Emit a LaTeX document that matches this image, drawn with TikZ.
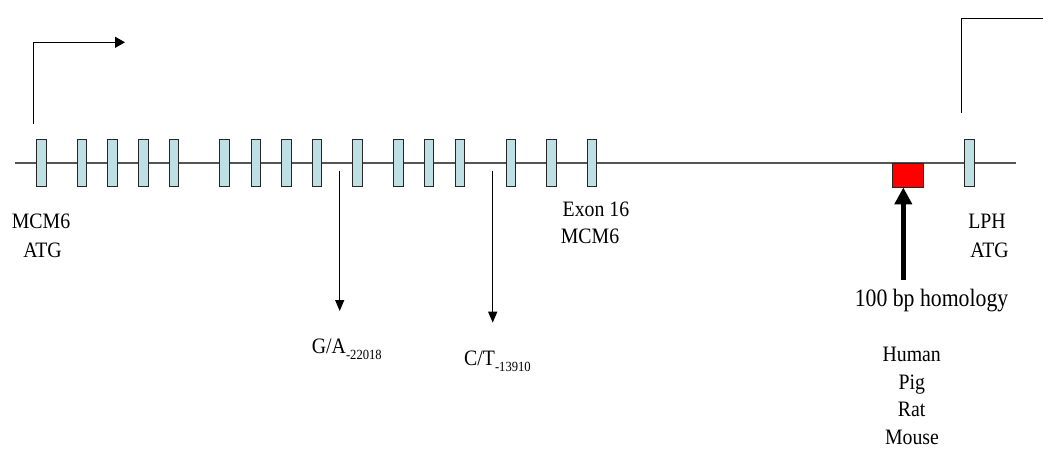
\documentclass[tikz,border=0pt]{standalone}
\usepackage{fontspec}
\usepackage{graphicx}
\setmainfont{Liberation Serif}
\usetikzlibrary{arrows.meta}
\definecolor{exonfill}{RGB}{190,224,228}
\definecolor{linegray}{RGB}{85,85,85}
\newcommand{\sq}[2][0.9]{\scalebox{#1}[1]{#2}}
\newcommand{\subtxt}[1]{\raisebox{-6pt}{\fontsize{14}{14}\selectfont #1}}
\begin{document}
\begin{tikzpicture}[x=1pt,y=-1pt,
  exon/.style={draw=black!85, fill=exonfill, line width=0.9pt, minimum width=9.7pt, minimum height=47pt, inner sep=0pt},
  redbox/.style={draw=black!85, fill=red, line width=0.9pt, minimum width=31pt, minimum height=24pt, inner sep=0pt},
  lbl/.style={anchor=base, inner sep=0pt, font=\fontsize{22}{26}\selectfont},
  biglbl/.style={anchor=base, inner sep=0pt, font=\fontsize{25}{30}\selectfont},
  backbone/.style={draw=linegray, line width=1.3pt},
  arr/.style={draw=black, line width=1.2pt},
  smallarr/.style={draw=black, line width=1.2pt, -{Triangle[length=11pt,width=9pt]}},
  bigarr/.style={draw=black, line width=5.3pt, -{Triangle[length=17pt,width=17pt]}}
]
\useasboundingbox (0,0) rectangle (1043,448);
% backbone
\coordinate (ml) at (15,163);
\coordinate (mr) at (1016,163);
\draw[backbone] (ml) -- (mr);
% exons
\foreach \i/\x in {1/41.5,2/82,3/112.7,4/143.7,5/174,6/224.7,7/255.8,8/286.5,9/316.8,10/357.7,11/398.5,12/428.8,13/459.8,14/510.8,15/551.5,16/592,17/969.7}
  \node[exon] (e\i) at (\x,162.5) {};
% red box
\node[redbox] (red) at (908,175) {};
% transcription arrows
\coordinate (ls) at (33.3,124);
\coordinate (le) at (125,42.3);
\draw[arr, -{Triangle[length=10pt,width=11pt]}] (ls) |- (le);
\coordinate (rs) at (961.3,112.7);
\coordinate (re) at (1043,18.7);
\draw[arr] (rs) |- (re);
% SNP arrows
\coordinate (ga1) at (339.7,170.7);
\coordinate (ga2) at (339.7,311);
\draw[smallarr] (ga1) -- (ga2);
\coordinate (ct1) at (492.7,170.7);
\coordinate (ct2) at (492.7,322.7);
\draw[smallarr] (ct1) -- (ct2);
% homology arrow
\coordinate (hs) at (903.3,280);
\draw[bigarr] (hs) -- (red.south -| hs);
% labels
\node[lbl] (mcm) at (41,228.5) {\sq{MCM6}};
\node[lbl] (atg1) at (42.5,257) {\sq{ATG}};
\node[lbl] (lph) at (987,228.3) {\sq{LPH}};
\node[lbl] (atg2) at (989.5,257.3) {\sq{ATG}};
\node[lbl] (ex16) at (596,216.7) {\sq{Exon 16}};
\node[lbl] (mcm2) at (590,243.3) {\sq{MCM6}};
\node[lbl, anchor=base west] (ga) at (311.7,353.3) {\sq{G/A\subtxt{-22018}}};
\node[lbl, anchor=base west] (ct) at (464,365.7) {\sq{C/T\subtxt{-13910}}};
\node[biglbl] (hom) at (931.5,306.7) {\sq[0.87]{100 bp homology}};
\node[lbl] (hum) at (911.7,361.2) {\sq{Human}};
\node[lbl] (pig) at (911.7,389.0) {\sq{Pig}};
\node[lbl] (rat) at (911.7,416.8) {\sq{Rat}};
\node[lbl] (mou) at (912,444.3) {\sq{Mouse}};
\end{tikzpicture}
\end{document}
